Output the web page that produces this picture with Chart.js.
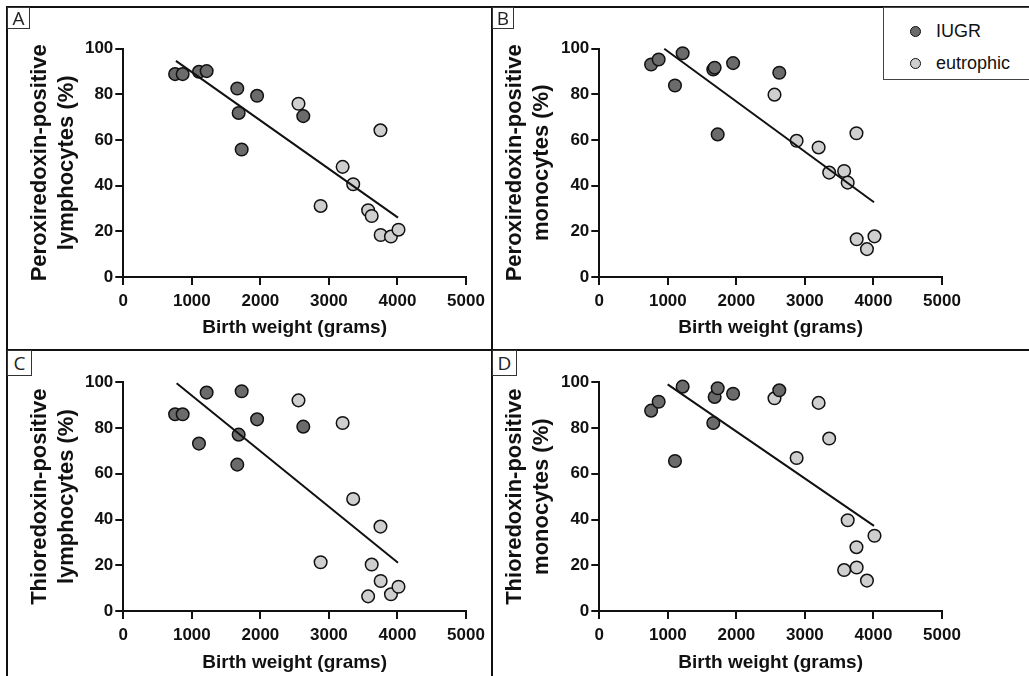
<!DOCTYPE html>
<html>
<head>
<meta charset="utf-8">
<script src="https://cdn.jsdelivr.net/npm/chart.js@4/dist/chart.umd.min.js"></script>
<style>
  body { margin: 0; background: #fff; }
  #fig { position: relative; width: 1029px; height: 676px; overflow: hidden; font-family: "Liberation Sans", Arial, sans-serif; }
  canvas { position: absolute; }
  .rule { position: absolute; background: #111; }
  .tag { position: absolute; box-sizing: border-box; border: 1px solid #333; background: #fff; font-family: "Open Sans", sans-serif; font-size: 19px; color: #222; text-align: center; }
  .legend { position: absolute; left: 883px; top: 7px; width: 170px; height: 73px; box-sizing: border-box; border: 1px solid #444; background: #fff; }
  .legend div { position: absolute; left: 52px; font-size: 18px; color: #111; }
  .legend span { position: absolute; left: -26px; top: 5px; width: 9px; height: 9px; border-radius: 50%; border: 1.5px solid #111; }
</style>
</head>
<body>
<div id="fig">
  <canvas id="chartA" width="492" height="350" style="left:0;top:0"></canvas>
  <canvas id="chartB" width="537" height="350" style="left:492px;top:0"></canvas>
  <canvas id="chartC" width="492" height="326" style="left:0;top:350px"></canvas>
  <canvas id="chartD" width="537" height="326" style="left:492px;top:350px"></canvas>

  <div class="rule" style="left:6px;top:6px;width:1023px;height:2px"></div>
  <div class="rule" style="left:6px;top:6px;width:2px;height:670px"></div>
  <div class="rule" style="left:491px;top:6px;width:2px;height:670px"></div>
  <div class="rule" style="left:6px;top:349px;width:1023px;height:2px"></div>

  <div class="tag" style="left:7px;top:7px;width:23px;height:22px;line-height:20px">A</div>
  <div class="tag" style="left:492px;top:7px;width:22px;height:22px;line-height:20px">B</div>
  <div class="tag" style="left:7px;top:350px;width:25px;height:26px;line-height:24px">C</div>
  <div class="tag" style="left:492px;top:350px;width:25px;height:26px;line-height:24px">D</div>

  <div class="legend">
    <div style="top:13px"><span style="background:#6b6b6b"></span>IUGR</div>
    <div style="top:45px"><span style="background:#cfcfcf"></span>eutrophic</div>
  </div>
</div>

<script>
// birth weights (grams), shared by all four panels
const iugrWeight = [756, 866, 1104, 1216, 1663, 1683, 1727, 1952, 2626];
const eutroWeight = [2556, 2879, 3200, 3354, 3572, 3624, 3752, 3755, 3905, 4015];

// A: peroxiredoxin-positive lymphocytes (%)
const prxLymphIugr = [88.8, 88.8, 89.8, 90.1, 82.5, 71.8, 55.8, 79.3, 70.4];
const prxLymphEutro = [75.8, 31.1, 48.2, 40.6, 29.2, 26.7, 64.2, 18.4, 17.7, 20.7];
const prxLymphFit = [[768, 94.6], [4008, 26.0]];

// B: peroxiredoxin-positive monocytes (%)
const prxMonoIugr = [93.0, 95.2, 83.8, 97.9, 90.8, 91.6, 62.4, 93.6, 89.4];
const prxMonoEutro = [79.8, 59.6, 56.7, 45.7, 46.4, 41.3, 62.9, 16.5, 12.2, 17.8];
const prxMonoFit = [[948, 99.9], [4008, 32.7]];

// C: thioredoxin-positive lymphocytes (%)
const trxLymphIugr = [86.0, 86.0, 73.2, 95.5, 64.0, 77.1, 96.1, 83.8, 80.6];
const trxLymphEutro = [92.1, 21.3, 82.2, 49.0, 6.4, 20.3, 36.9, 13.1, 7.3, 10.6];
const trxLymphFit = [[778, 99.6], [4008, 21.1]];

// D: thioredoxin-positive monocytes (%)
const trxMonoIugr = [87.6, 91.5, 65.6, 98.1, 82.2, 93.6, 97.4, 95.0, 96.5];
const trxMonoEutro = [93.0, 66.9, 91.0, 75.4, 17.9, 39.7, 27.9, 19.0, 13.3, 32.9];
const trxMonoFit = [[997, 99.1], [4008, 37.2]];

const font = "'Liberation Sans', Arial, sans-serif";

function toPoints(xs, ys) {
    return xs.map((x, i) => ({ x: x, y: ys[i] }));
}

function makePanel(id, cfg) {
    const ctx = document.getElementById(id).getContext('2d');
    new Chart(ctx, {
        type: 'scatter',
        data: {
            datasets: [
                {
                    label: 'fit',
                    data: cfg.fit.map(p => ({ x: p[0], y: p[1] })),
                    showLine: true,
                    borderColor: '#111',
                    borderWidth: 2,
                    pointRadius: 0,
                    clip: false
                }, {
                    label: 'IUGR',
                    data: toPoints(iugrWeight, cfg.iugr),
                    backgroundColor: '#6b6b6b',
                    borderColor: '#111',
                    borderWidth: 1.5,
                    pointRadius: 6.3,
                    clip: false
                }, {
                    label: 'eutrophic',
                    data: toPoints(eutroWeight, cfg.eutro),
                    backgroundColor: '#cfcfcf',
                    borderColor: '#111',
                    borderWidth: 1.5,
                    pointRadius: 6.3,
                    clip: false
                }
            ]
        },
        options: {
            responsive: false,
            animation: false,
            events: [],
            layout: {
                padding: { left: 0, top: cfg.top, right: cfg.right, bottom: 0 }
            },
            plugins: {
                legend: { display: false },
                tooltip: { enabled: false }
            },
            scales: {
                x: {
                    type: 'linear',
                    min: 0,
                    max: 5000,
                    afterFit: s => { s.height = cfg.xHeight; },
                    border: { color: '#111', width: 2 },
                    grid: { drawOnChartArea: false, drawTicks: true, tickLength: 8, color: '#111', lineWidth: 2 },
                    ticks: {
                        stepSize: 1000,
                        padding: 6,
                        color: '#111',
                        font: { family: font, size: 17, weight: 'bold' },
                        callback: v => String(v)
                    },
                    title: {
                        display: true,
                        text: 'Birth weight (grams)',
                        color: '#111',
                        padding: { top: 0, bottom: cfg.xTitlePad },
                        font: { family: font, size: 19, weight: 'bold' }
                    }
                },
                y: {
                    min: 0,
                    max: 100,
                    afterFit: s => { s.width = cfg.yWidth; },
                    border: { color: '#111', width: 2 },
                    grid: { drawOnChartArea: false, drawTicks: true, tickLength: 8, color: '#111', lineWidth: 2 },
                    ticks: {
                        stepSize: 20,
                        padding: 2,
                        color: '#111',
                        font: { family: font, size: 17, weight: 'bold' },
                        callback: v => String(v)
                    },
                    title: {
                        display: true,
                        text: cfg.yTitle,
                        color: '#111',
                        padding: { top: cfg.yTitlePad, bottom: 0 },
                        font: { family: font, size: 22, weight: 'bold', lineHeight: 1.2 }
                    }
                }
            }
        }
    });
}

makePanel('chartA', {
    iugr: prxLymphIugr, eutro: prxLymphEutro, fit: prxLymphFit,
    yTitle: ['Peroxiredoxin-positive', 'lymphocytes (%)'],
    top: 48.5, right: 26, xHeight: 73, yWidth: 123.3, yTitlePad: 27, xTitlePad: 11
});
makePanel('chartB', {
    iugr: prxMonoIugr, eutro: prxMonoEutro, fit: prxMonoFit,
    yTitle: ['Peroxiredoxin-positive', 'monocytes (%)'],
    top: 48.5, right: 87, xHeight: 73, yWidth: 107.3, yTitlePad: 10, xTitlePad: 11
});
makePanel('chartC', {
    iugr: trxLymphIugr, eutro: trxLymphEutro, fit: trxLymphFit,
    yTitle: ['Thioredoxin-positive', 'lymphocytes (%)'],
    top: 32.3, right: 26, xHeight: 65, yWidth: 123.3, yTitlePad: 27, xTitlePad: 2
});
makePanel('chartD', {
    iugr: trxMonoIugr, eutro: trxMonoEutro, fit: trxMonoFit,
    yTitle: ['Thioredoxin-positive', 'monocytes (%)'],
    top: 32.3, right: 87, xHeight: 65, yWidth: 107.3, yTitlePad: 10, xTitlePad: 2
});
</script>
</body>
</html>
